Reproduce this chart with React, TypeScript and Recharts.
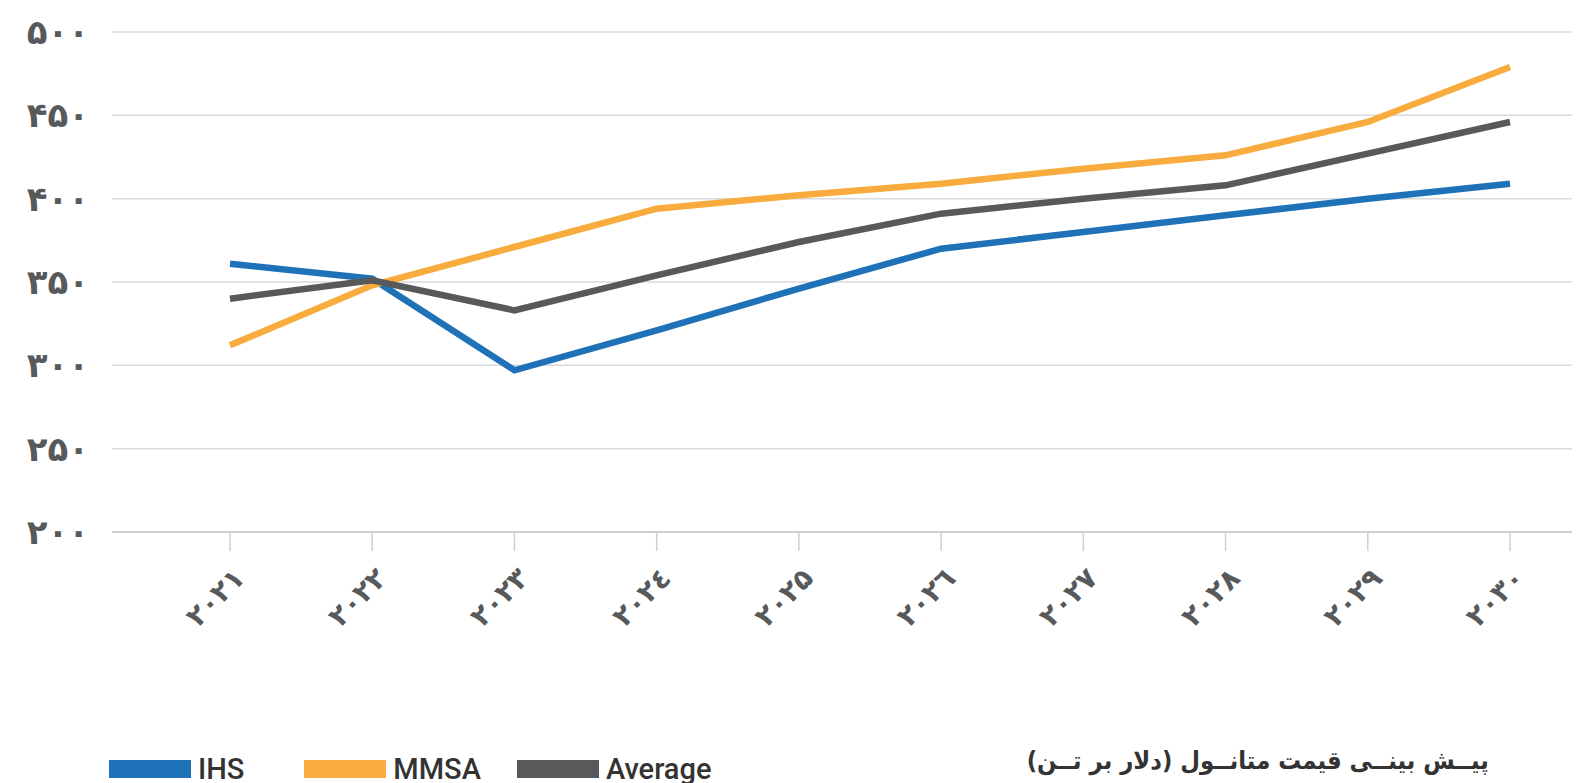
import { CartesianGrid, Line, LineChart, XAxis, YAxis } from "recharts"

const years = ["۲۰۲۱", "۲۰۲۲", "۲۰۲۳", "۲۰۲٤", "۲۰۲۵", "۲۰۲٦", "۲۰۲۷", "۲۰۲۸", "۲۰۲۹", "۲۰۳۰"]
const ihs = [361, 352, 297, 321, 346, 370, 380, 390, 400, 409]
const mmsa = [312, 348, 371, 394, 402, 409, 418, 426, 446, 479]
const average = [340, 351, 333, 354, 374, 391, 400, 408, 427, 446]

const yTicks = [200, 250, 300, 350, 400, 450, 500]
const yTickLabels = ["۲۰۰", "۲۵۰", "۳۰۰", "۳۵۰", "۴۰۰", "۴۵۰", "۵۰۰"]

const legendItems = [
    { name: "IHS", color: "#1f72b8" },
    { name: "MMSA", color: "#f8ac3d" },
    { name: "Average", color: "#58595b" },
]

const title = "پیــش بینــی قیمت متانــول (دلار بر تــن)"

const data = years.map((year, i) => ({
    year,
    IHS: ihs[i],
    MMSA: mmsa[i],
    Average: average[i],
}))

const YearTick = (props: any) => {
    const { x, y, payload } = props
    return (
        <g transform={`translate(${x + 16},${y + 27})`}>
            <text
                x={0}
                y={0}
                textAnchor="end"
                transform="rotate(-45)"
                fill="#58595b"
                fontSize={28}
                fontWeight="bold"
                fontFamily="DejaVu Sans"
            >
                {payload.value}
            </text>
        </g>
    )
}

const App = () => {
    return (
        <div style={{ position: "relative", width: 1572, height: 775, fontFamily: "DejaVu Sans" }}>
            <LineChart width={1572} height={700} data={data} margin={{ top: 24, right: 0, bottom: 0, left: 0 }}>
                <CartesianGrid vertical={false} stroke="#dadada" strokeWidth={1.5} />
                <XAxis
                    dataKey="year"
                    height={176}
                    padding={{ left: 118, right: 70 }}
                    stroke="#c8c8c8"
                    strokeWidth={1.5}
                    tickSize={19}
                    tickLine={{ stroke: "#d0d0d0" }}
                    tick={<YearTick />}
                    interval={0}
                />
                <YAxis
                    width={104}
                    domain={[200, 500]}
                    ticks={yTicks}
                    tickFormatter={(v: number) => yTickLabels[yTicks.indexOf(v)]}
                    axisLine={false}
                    tickLine={false}
                    tickSize={0}
                    tickMargin={23}
                    tick={{ fill: "#58595b", fontSize: 34, fontWeight: "bold", fontFamily: "DejaVu Sans" }}
                />
                <Line dataKey="IHS" stroke="#1f72b8" strokeWidth={6.5} dot={false} isAnimationActive={false} />
                <Line dataKey="MMSA" stroke="#f8ac3d" strokeWidth={6.5} dot={false} isAnimationActive={false} />
                <Line dataKey="Average" stroke="#58595b" strokeWidth={6.5} dot={false} isAnimationActive={false} />
            </LineChart>

            <div style={{ position: "absolute", left: 101, top: 746, display: "flex", alignItems: "center" }}>
                {legendItems.map((item, i) => (
                    <div key={item.name} style={{ display: "flex", alignItems: "center", marginRight: i === 0 ? 60 : 36 }}>
                        <div style={{ width: 82, height: 18, background: item.color, marginRight: 7 }} />
                        <span style={{ fontFamily: "Roboto", fontWeight: 500, fontSize: 29, color: "#333", lineHeight: "30px" }}>
                            {item.name}
                        </span>
                    </div>
                ))}
            </div>

            <div
                dir="rtl"
                style={{
                    position: "absolute",
                    right: 91,
                    top: 738,
                    fontFamily: "DejaVu Sans",
                    fontWeight: "bold",
                    fontSize: 25,
                    color: "#333",
                    transform: "scaleX(0.91)",
                    transformOrigin: "right center",
                }}
            >
                {title}
            </div>
        </div>
    )
}

export default App
